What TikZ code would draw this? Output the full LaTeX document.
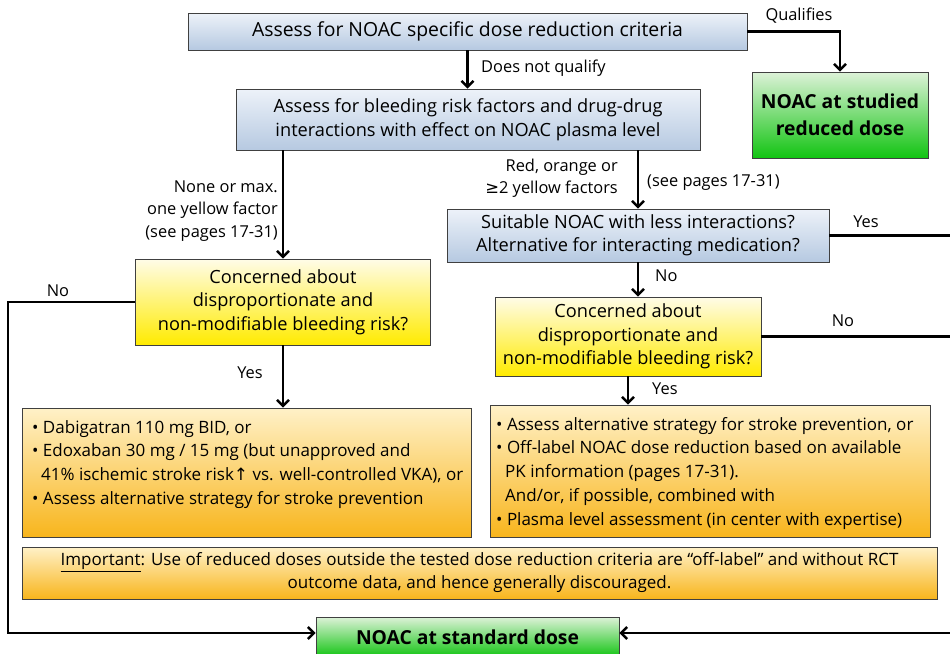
\documentclass[tikz,border=0pt]{standalone}
\usepackage{fontspec}
\setmainfont{Open Sans}
\newfontfamily\symfont{DejaVu Sans}
\usetikzlibrary{arrows.meta}

\definecolor{blueTop}{HTML}{EDF2F9}
\definecolor{blueBot}{HTML}{B6C9E1}
\definecolor{greenTop}{HTML}{DDF2D8}
\definecolor{greenBot}{HTML}{12C412}
\definecolor{yelTop}{HTML}{FFFCE8}
\definecolor{yelBot}{HTML}{FFEB00}
\definecolor{orTop}{HTML}{FFF1C8}
\definecolor{orBot}{HTML}{F8B51C}
\definecolor{frame}{HTML}{404040}

\begin{document}
\begin{tikzpicture}[x=1pt,y=-1pt,
  box/.style={draw=frame, line width=0.9pt, inner sep=0pt},
  bluebox/.style={box, top color=blueTop, bottom color=blueBot},
  greenbox/.style={box, top color=greenTop, bottom color=greenBot},
  yelbox/.style={box, top color=yelTop, bottom color=yelBot},
  orbox/.style={box, top color=orTop, bottom color=orBot},
  txt/.style={font=\fontsize{18.2}{23.5}\selectfont, align=center},
  bold/.style={font=\fontsize{19.3}{27}\selectfont\bfseries, align=center},
  bullets/.style={font=\fontsize{17}{23.7}\selectfont, align=left, inner sep=0pt, anchor=north west},
  lbl/.style={font=\fontsize{16.4}{22.5}\selectfont, inner sep=0pt},
  conn/.style={line width=2.4pt},
  flow/.style={conn, -{Straight Barb[length=6pt,width=12pt]}}]

\useasboundingbox (0,0) rectangle (950,653);

% --- boxes -------------------------------------------------------------
\node[bluebox, txt, font=\fontsize{19.4}{23.5}\selectfont, minimum width=559pt, minimum height=37pt] (assess) at (467.5,31.5)
  {Assess for NOAC specific dose reduction criteria};
\node[greenbox, bold, minimum width=176pt, minimum height=86pt] (reduced) at (840,115)
  {NOAC at studied\\reduced dose};
\node[bluebox, txt, minimum width=464pt, minimum height=61pt] (bleed) at (468,119.5)
  {Assess for bleeding risk factors and drug-drug\\interactions with effect on NOAC plasma level};
\node[bluebox, txt, minimum width=382pt, minimum height=53pt] (suitable) at (638,235.5)
  {Suitable NOAC with less interactions?\\Alternative for interacting medication?};
\node[yelbox, txt, minimum width=295pt, minimum height=86pt] (concernL) at (283,302)
  {Concerned about\\disproportionate and\\non-modifiable bleeding risk?};
\node[yelbox, txt, minimum width=266pt, minimum height=79pt] (concernR) at (628,336.5)
  {Concerned about\\disproportionate and\\non-modifiable bleeding risk?};
\node[orbox, minimum width=449pt, minimum height=129pt] (optL) at (246.5,472.5) {};
\node[bullets] (optLtext) at (32,420)
  {\textbullet\ Dabigatran 110 mg BID, or\\
   \textbullet\ Edoxaban 30 mg / 15 mg (but unapproved and\\
   \hspace*{9pt}41\% ischemic stroke risk{\symfont ↑} vs. well-controlled VKA), or\\
   \textbullet\ Assess alternative strategy for stroke prevention};
\node[orbox, minimum width=440pt, minimum height=132pt] (optR) at (710,471) {};
\node[bullets] (optRtext) at (496,417)
  {\textbullet\ Assess alternative strategy for stroke prevention, or\\
   \textbullet\ Off-label NOAC dose reduction based on available\\
   \hspace*{9pt}PK information (pages 17-31).\\
   \hspace*{9pt}And/or, if possible, combined with\\
   \textbullet\ Plasma level assessment (in center with expertise)};
\node[orbox, minimum width=915pt, minimum height=52pt,
      font=\fontsize{17}{23}\selectfont, align=center] (important) at (479.5,573)
  {\underline{Important}: Use of reduced doses outside the tested dose reduction criteria are “off-label” and without RCT\\
   outcome data, and hence generally discouraged.};
\node[greenbox, bold, minimum width=303pt, minimum height=40pt] (standard) at (467.5,637)
  {NOAC at standard dose};

% --- free ends at the right and left margins -----------------------------
\coordinate (leftrail) at (8,633);
\coordinate (rightrail) at (952,633);

% --- connectors ----------------------------------------------------------
\draw[flow] (assess.south) -- (assess.south |- bleed.north);
\node[lbl, anchor=west] at (481,68) {Does not qualify};

\draw[flow] (assess.east) -| (reduced.north);
\node[lbl] at (799,16) {Qualifies};

\draw[flow] (bleed.south -| concernL.north) -- (concernL.north);
\node[lbl, anchor=east, align=right] at (278,211)
  {None or max.\\one yellow factor\\(see pages 17-31)};

\draw[flow] (bleed.south -| suitable.north) -- (suitable.north);
\node[lbl, anchor=east, align=right] at (618,178)
  {Red, orange or\\{\symfont ≥}2 yellow factors};
\node[lbl, anchor=west] at (647,183) {(see pages 17-31)};

\draw[conn] (suitable.east) -- (suitable.east -| rightrail);
\node[lbl] at (866,222) {Yes};

\draw[flow] (suitable.south) -- (suitable.south |- concernR.north);
\node[lbl, anchor=west] at (655,276) {No};

\draw[conn] (concernR.east) -- (concernR.east -| rightrail);
\node[lbl] at (843,321) {No};

\draw[flow] (concernR.south) -- (concernR.south |- optR.north);
\node[lbl, anchor=west] at (652,389) {Yes};

\draw[flow] (concernL.south) -- (concernL.south |- optL.north);
\node[lbl] at (250,373) {Yes};

\draw[flow] (concernL.west) -| (leftrail) -- (leftrail -| standard.west);
\node[lbl] at (58,291) {No};

\draw[flow] (rightrail) -- (rightrail -| standard.east);

\end{tikzpicture}
\end{document}
